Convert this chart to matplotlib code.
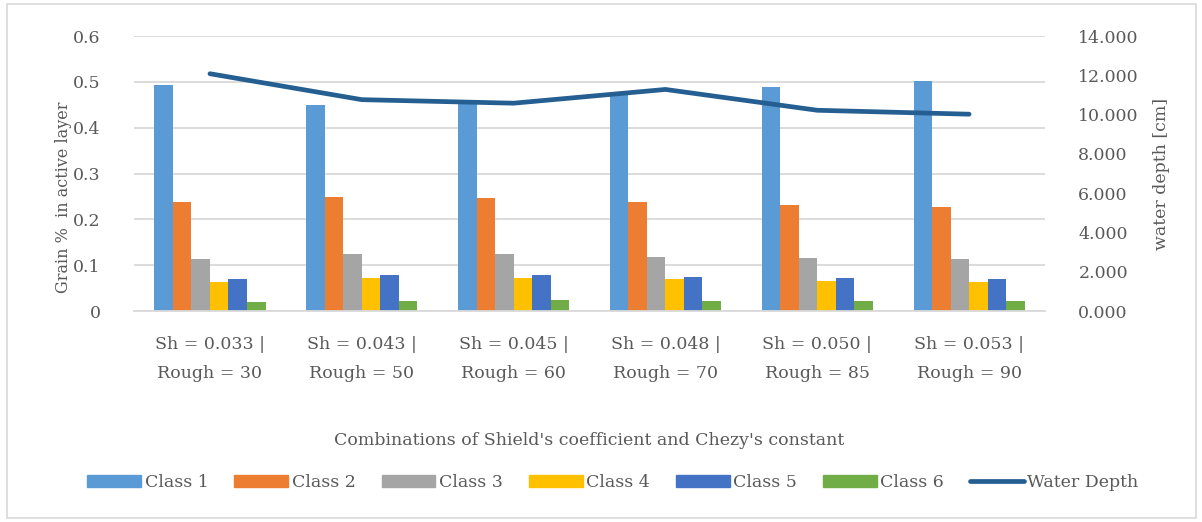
import matplotlib
matplotlib.use("Agg")
import matplotlib.pyplot as plt
import numpy as np
from matplotlib.patches import Rectangle
from matplotlib.lines import Line2D

plt.rcParams['font.family'] = ['DejaVu Serif']

categories = ["Sh = 0.033 |\nRough = 30", "Sh = 0.043 |\nRough = 50", "Sh = 0.045 |\nRough = 60",
              "Sh = 0.048 |\nRough = 70", "Sh = 0.050 |\nRough = 85", "Sh = 0.053 |\nRough = 90"]
class_names = ["Class 1", "Class 2", "Class 3", "Class 4", "Class 5", "Class 6"]
class1 = [0.494, 0.450, 0.460, 0.472, 0.488, 0.502]
class2 = [0.238, 0.249, 0.247, 0.238, 0.232, 0.226]
class3 = [0.113, 0.124, 0.124, 0.118, 0.115, 0.113]
class4 = [0.063, 0.072, 0.072, 0.069, 0.066, 0.063]
class5 = [0.069, 0.078, 0.078, 0.075, 0.072, 0.069]
class6 = [0.020, 0.022, 0.025, 0.022, 0.022, 0.022]
water_depth = [12.08, 10.76, 10.58, 11.28, 10.22, 10.02]

colors = ["#5b9bd5", "#ed7d31", "#a5a5a5", "#ffc000", "#4472c4", "#70ad47"]
line_color = "#255e91"
text_color = "#595959"
grid_color = "#d9d9d9"
fs = 12.5

fig = plt.figure(figsize=(12.02, 5.22), dpi=100)
fig.patches.append(Rectangle((0.006, 0.008), 0.989, 0.984, transform=fig.transFigure,
                             fill=False, edgecolor="#d9d9d9", linewidth=1.2))
ax = fig.add_axes([0.1115, 0.4042, 0.7579, 0.5268])
x = np.arange(len(categories))
series = [class1, class2, class3, class4, class5, class6]
bw = 0.122
for i, (vals, c) in enumerate(zip(series, colors)):
    ax.bar(x + (i - 2.5) * bw, vals, width=bw, color=c, zorder=2)

ax.set_xlim(-0.5, len(categories) - 0.5)
ax.set_ylim(0, 0.6)
ax.set_yticks(np.arange(0, 0.61, 0.1))
ax.set_yticklabels(["0", "0.1", "0.2", "0.3", "0.4", "0.5", "0.6"])
ax.yaxis.grid(True, color=grid_color, linewidth=1.3, zorder=0)
ax.set_axisbelow(True)
for s in ["top", "left", "right"]:
    ax.spines[s].set_visible(False)
ax.spines["bottom"].set_color(grid_color)
ax.spines["bottom"].set_linewidth(1.3)
ax.tick_params(axis="both", length=0, colors=text_color, labelsize=fs)
ax.tick_params(axis="y", pad=24)
ax.tick_params(axis="x", pad=18)
ax.set_xticks(x)
ax.set_xticklabels(categories, fontsize=fs, linespacing=1.9)
ax.set_ylabel("Grain %  in active layer", color=text_color, fontsize=11.5)
ax.yaxis.set_label_coords(-0.068, 0.415)
ax.set_xlabel("Combinations of Shield's coefficient and Chezy's constant",
              color=text_color, fontsize=fs, labelpad=36)

ax2 = ax.twinx()
ax2.plot(x, water_depth, color=line_color, linewidth=3.4, solid_capstyle="round", zorder=3)
ax2.set_ylim(0, 14)
ax2.set_yticks(np.arange(0, 14.1, 2))
ax2.set_yticklabels([f"{v:.3f}" for v in np.arange(0, 14.1, 2)])
for s in ["top", "left", "right", "bottom"]:
    ax2.spines[s].set_visible(False)
ax2.tick_params(axis="y", length=0, colors=text_color, labelsize=fs, pad=24)
ax2.set_ylabel("water depth [cm]", color=text_color, fontsize=fs, labelpad=10)

handles = [Rectangle((0, 0), 1, 1, color=c) for c in colors]
handles.append(Line2D([0], [0], color=line_color, linewidth=3.4, solid_capstyle="round"))
labels = class_names + ["Water Depth"]
fig.legend(handles, labels, loc="center", bbox_to_anchor=(0.51, 0.075), ncol=7,
           frameon=False, fontsize=fs, handlelength=3.1, handleheight=0.7,
           handletextpad=0.2, columnspacing=1.5, labelcolor=text_color)

fig.savefig("out.png", dpi=100)
